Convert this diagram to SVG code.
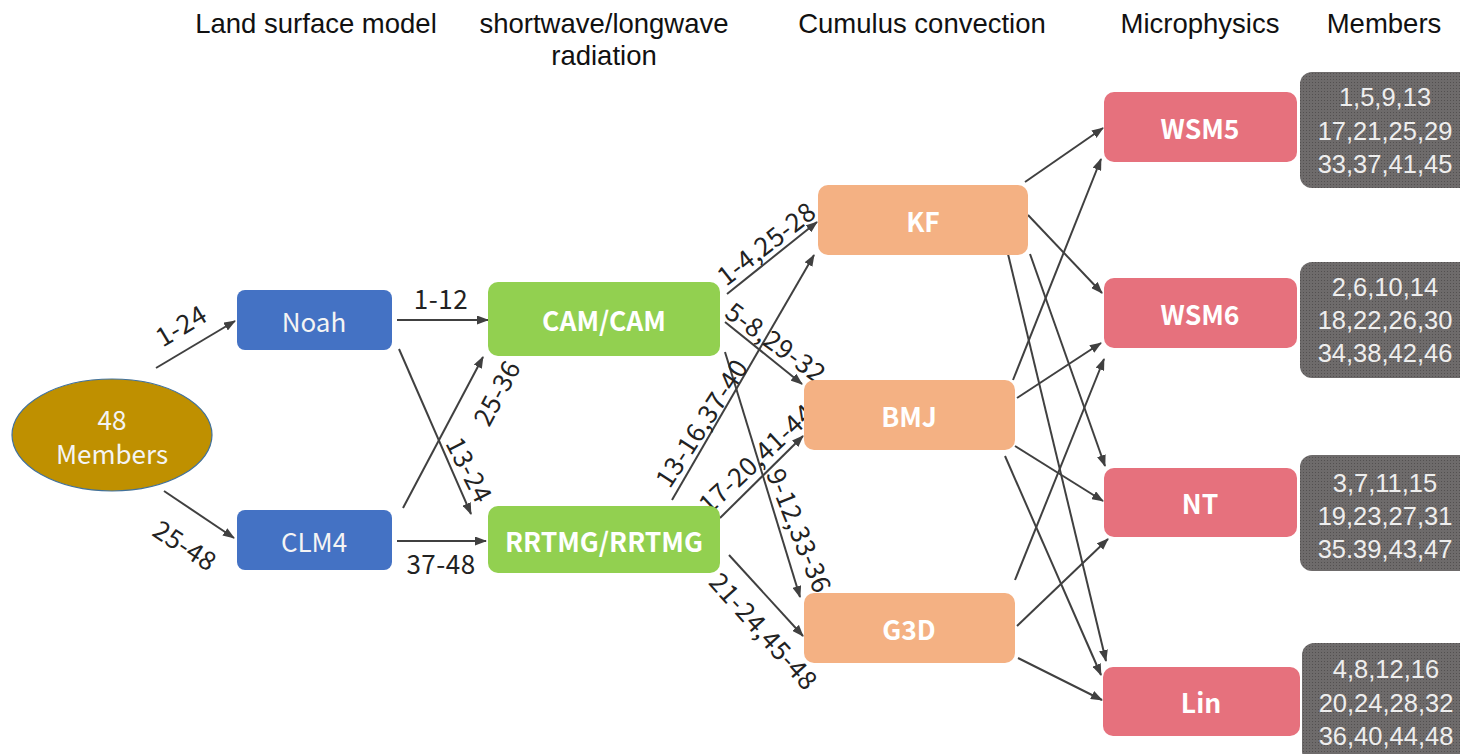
<svg xmlns="http://www.w3.org/2000/svg" width="1460" height="754" viewBox="0 0 1460 754">
  <defs>
    <marker id="arr" markerWidth="12" markerHeight="9" refX="11" refY="4.5" orient="auto" markerUnits="userSpaceOnUse">
      <path d="M0,0 L12,4.5 L0,9 z" fill="#404040"/>
    </marker>
    <pattern id="dots" width="3" height="3" patternUnits="userSpaceOnUse">
      <rect width="3" height="3" fill="#6e6b6b"/>
      <rect x="1" y="1" width="1" height="1" fill="#535050"/>
    </pattern>
  </defs>
  <style>
    .hdr{font-family:"Liberation Sans",Arial,sans-serif;font-size:27.5px;fill:#111;text-anchor:middle}
    .lbl{font-family:"Noto Sans CJK SC","Noto Sans",sans-serif;font-size:26px;letter-spacing:0.5px;fill:#222;text-anchor:middle;dominant-baseline:central}
    .nt{font-family:"Noto Sans CJK SC","Noto Sans",sans-serif;font-size:26px;fill:#f4f4f4;text-anchor:middle;dominant-baseline:central}
    .b{font-weight:bold;fill:#fff;font-size:26.5px}
    .mem{font-family:"Liberation Sans",Arial,sans-serif;font-size:25.5px;fill:#eeeeee;text-anchor:middle}
    .edge{stroke:#404040;stroke-width:2;fill:none;marker-end:url(#arr)}
    .lsm{fill:#4472C4}
    .rad{fill:#92D050}
    .cu{fill:#F4B183}
    .mp{fill:#E6717D}
    .mbox{fill:url(#dots)}
  </style>

  <rect width="1460" height="754" fill="#ffffff"/>

  <!-- column headers -->
  <g id="headers">
    <text class="hdr" x="316" y="33">Land surface model</text>
    <text class="hdr" x="604" y="33">shortwave/longwave</text>
    <text class="hdr" x="604" y="65">radiation</text>
    <text class="hdr" x="922" y="33">Cumulus convection</text>
    <text class="hdr" x="1200" y="33">Microphysics</text>
    <text class="hdr" x="1384" y="33">Members</text>
  </g>

  <!-- connectors -->
  <g id="connectors">
    <line class="edge" x1="156" y1="368" x2="235" y2="321"/>
    <line class="edge" x1="164" y1="491" x2="234" y2="538"/>
    <line class="edge" x1="397" y1="320" x2="488" y2="320"/>
    <line class="edge" x1="399" y1="349" x2="471" y2="514"/>
    <line class="edge" x1="403" y1="508" x2="483" y2="357"/>
    <line class="edge" x1="397" y1="541" x2="486" y2="541"/>

    <line class="edge" x1="727" y1="294" x2="817" y2="222"/>
    <line class="edge" x1="725" y1="322" x2="802" y2="384"/>
    <line class="edge" x1="725" y1="352" x2="800" y2="597"/>
    <line class="edge" x1="672" y1="500" x2="814" y2="255"/>
    <line class="edge" x1="720" y1="518" x2="803" y2="436"/>
    <line class="edge" x1="729" y1="555" x2="803" y2="636"/>

    <line class="edge" x1="1025" y1="182" x2="1103" y2="128"/>
    <line class="edge" x1="1028" y1="215" x2="1102" y2="293"/>
    <line class="edge" x1="1030" y1="254" x2="1105" y2="466"/>
    <line class="edge" x1="1008" y1="254" x2="1106" y2="661"/>
    <line class="edge" x1="1013" y1="380" x2="1101" y2="159"/>
    <line class="edge" x1="1017" y1="398" x2="1101" y2="343"/>
    <line class="edge" x1="1015" y1="446" x2="1103" y2="501"/>
    <line class="edge" x1="1005" y1="456" x2="1101" y2="675"/>
    <line class="edge" x1="1015" y1="580" x2="1104" y2="359"/>
    <line class="edge" x1="1017" y1="626" x2="1108" y2="539"/>
    <line class="edge" x1="1018" y1="658" x2="1102" y2="700"/>
  </g>

  <!-- connector labels -->
  <g id="connector-labels">
    <text class="lbl" transform="translate(180,324) rotate(-31)">1-24</text>
    <text class="lbl" transform="translate(186,544) rotate(33)">25-48</text>
    <text class="lbl" x="441" y="297">1-12</text>
    <text class="lbl" x="441" y="562">37-48</text>
    <text class="lbl" transform="translate(495,392) rotate(-62)">25-36</text>
    <text class="lbl" transform="translate(471,469) rotate(63)">13-24</text>
    <text class="lbl" transform="translate(765,242) rotate(-38)">1-4,25-28</text>
    <text class="lbl" transform="translate(777,341) rotate(36)">5-8,29-32</text>
    <text class="lbl" transform="translate(700,422) rotate(-57)">13-16,37-40</text>
    <text class="lbl" transform="translate(755,457) rotate(-43)">17-20,41-44</text>
    <text class="lbl" transform="translate(801,530) rotate(68)">9-12,33-36</text>
    <text class="lbl" transform="translate(765,630) rotate(48)">21-24,45-48</text>
  </g>

  <!-- ensemble root -->
  <g id="ensemble">
    <ellipse cx="112" cy="435" rx="100" ry="56" fill="#BF9000" stroke="#41719C" stroke-width="1.2"/>
    <text class="nt" x="112" y="418" fill="#f5ecd0">48</text>
    <text class="nt" x="112" y="452">Members</text>
  </g>

  <!-- land surface models -->
  <g id="noah">
    <rect class="lsm" x="237" y="290" width="155" height="60" rx="8"/>
    <text class="nt" x="314" y="320">Noah</text>
  </g>
  <g id="clm4">
    <rect class="lsm" x="237" y="510" width="155" height="60" rx="8"/>
    <text class="nt" x="314" y="540">CLM4</text>
  </g>

  <!-- radiation schemes -->
  <g id="cam">
    <rect class="rad" x="488" y="282" width="232" height="74" rx="10"/>
    <text class="nt b" x="604" y="319">CAM/CAM</text>
  </g>
  <g id="rrtmg">
    <rect class="rad" x="488" y="506" width="232" height="67" rx="10"/>
    <text class="nt b" x="604" y="540">RRTMG/RRTMG</text>
  </g>

  <!-- cumulus schemes -->
  <g id="kf">
    <rect class="cu" x="818" y="185" width="210" height="70" rx="10"/>
    <text class="nt b" x="923" y="220">KF</text>
  </g>
  <g id="bmj">
    <rect class="cu" x="804" y="380" width="211" height="70" rx="10"/>
    <text class="nt b" x="909" y="415">BMJ</text>
  </g>
  <g id="g3d">
    <rect class="cu" x="804" y="593" width="211" height="70" rx="10"/>
    <text class="nt b" x="909" y="628">G3D</text>
  </g>

  <!-- microphysics schemes -->
  <g id="wsm5">
    <rect class="mp" x="1104" y="92" width="193" height="70" rx="10"/>
    <text class="nt b" x="1200" y="127">WSM5</text>
  </g>
  <g id="wsm6">
    <rect class="mp" x="1104" y="278" width="193" height="70" rx="10"/>
    <text class="nt b" x="1200" y="313">WSM6</text>
  </g>
  <g id="nt">
    <rect class="mp" x="1104" y="468" width="193" height="69" rx="10"/>
    <text class="nt b" x="1200" y="502">NT</text>
  </g>
  <g id="lin">
    <rect class="mp" x="1103" y="667" width="197" height="69" rx="10"/>
    <text class="nt b" x="1201" y="701">Lin</text>
  </g>

  <!-- member lists -->
  <g id="members-wsm5">
    <rect class="mbox" x="1300" y="72" width="175" height="116" rx="12"/>
    <text class="mem" x="1385" y="106">1,5,9,13</text>
    <text class="mem" x="1385" y="140">17,21,25,29</text>
    <text class="mem" x="1385" y="173">33,37,41,45</text>
  </g>
  <g id="members-wsm6">
    <rect class="mbox" x="1300" y="262" width="175" height="116" rx="12"/>
    <text class="mem" x="1385" y="296">2,6,10,14</text>
    <text class="mem" x="1385" y="329">18,22,26,30</text>
    <text class="mem" x="1385" y="362">34,38,42,46</text>
  </g>
  <g id="members-nt">
    <rect class="mbox" x="1300" y="455" width="175" height="116" rx="12"/>
    <text class="mem" x="1385" y="492">3,7,11,15</text>
    <text class="mem" x="1385" y="525">19,23,27,31</text>
    <text class="mem" x="1385" y="558">35.39,43,47</text>
  </g>
  <g id="members-lin">
    <rect class="mbox" x="1302" y="643" width="175" height="120" rx="12"/>
    <text class="mem" x="1386" y="678">4,8,12,16</text>
    <text class="mem" x="1386" y="712">20,24,28,32</text>
    <text class="mem" x="1386" y="745">36,40,44,48</text>
  </g>
</svg>
